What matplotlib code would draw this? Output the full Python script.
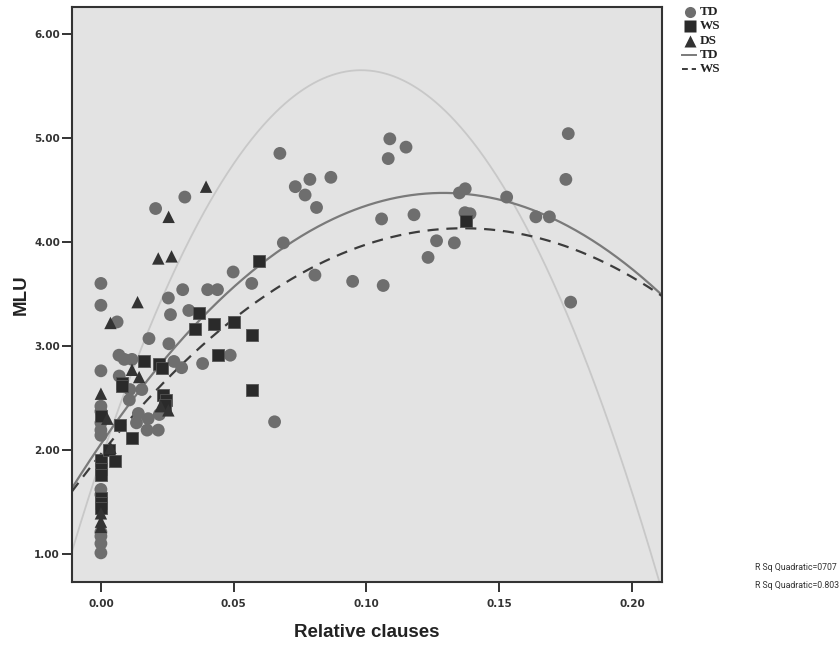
import matplotlib
matplotlib.use('Agg')
import matplotlib.pyplot as plt
import numpy as np
from matplotlib.lines import Line2D

# ---- data ----
td_x = [0, 0, 0, 0, 0, 0, 0, 0, 0, 0, 0, 0, 0, 0,
        0.0061, 0.0068, 0.0088, 0.0117, 0.0069, 0.0109, 0.0154, 0.0107, 0.0141, 0.0178,
        0.0220, 0.0216, 0.0174, 0.0134, 0.0181, 0.0256, 0.0262, 0.0331, 0.0254, 0.0308,
        0.0402, 0.0439, 0.0498, 0.0568, 0.0687, 0.0316, 0.0206, 0.0275, 0.0304, 0.0383,
        0.0487, 0.0654, 0.0674, 0.0732, 0.0769, 0.0787, 0.0866, 0.0812, 0.0806, 0.0948,
        0.1063, 0.1057, 0.1088, 0.1149, 0.1082, 0.1179, 0.1232, 0.1264, 0.1331, 0.1350,
        0.1372, 0.1371, 0.1390, 0.1528, 0.1638, 0.1689, 0.1751, 0.1760, 0.1769]
td_y = [3.60, 3.39, 2.76, 2.42, 2.37, 2.26, 2.19, 2.14, 1.62, 1.57, 1.21, 1.17, 1.10, 1.01,
        3.23, 2.91, 2.87, 2.87, 2.71, 2.58, 2.58, 2.48, 2.35, 2.30,
        2.34, 2.19, 2.19, 2.26, 3.07, 3.02, 3.30, 3.34, 3.46, 3.54,
        3.54, 3.54, 3.71, 3.60, 3.99, 4.43, 4.32, 2.85, 2.79, 2.83,
        2.91, 2.27, 4.85, 4.53, 4.45, 4.60, 4.62, 4.33, 3.68, 3.62,
        3.58, 4.22, 4.99, 4.91, 4.80, 4.26, 3.85, 4.01, 3.99, 4.47,
        4.51, 4.28, 4.27, 4.43, 4.24, 4.24, 4.60, 5.04, 3.42]

ws_x = [0, 0, 0, 0, 0, 0, 0, 0.0030,
        0.0053, 0.0072, 0.0116, 0.0078, 0.0078, 0.0162, 0.0220, 0.0230, 0.0235, 0.0247,
        0.0241, 0.0355, 0.0370, 0.0427, 0.0503, 0.0568, 0.0442, 0.0568, 0.0596, 0.1375]
ws_y = [2.33, 1.90, 1.82, 1.76, 1.54, 1.49, 1.44, 2.00,
        1.89, 2.24, 2.11, 2.64, 2.61, 2.85, 2.83, 2.79, 2.53, 2.48,
        2.43, 3.16, 3.32, 3.21, 3.23, 3.10, 2.91, 2.58, 3.82, 4.20]

ds_x = [0, 0, 0, 0, 0.0024, 0.0036, 0.0036, 0.0138, 0.0117, 0.0144, 0.0225, 0.0254,
        0.0216, 0.0266, 0.0255, 0.0396]
ds_y = [2.54, 1.39, 1.31, 1.26, 2.30, 2.02, 3.22, 3.42, 2.77, 2.70, 2.42, 2.38,
        3.84, 3.86, 4.24, 4.53]

# quadratic fit coefficients (a, b, c) : y = a + b x + c x^2
td_fit = [2.057, 37.41, -145.0]
ws_fit = [1.961, 31.78, -116.4]
ds_fit = [1.904, 76.44, -390.0]

x_ticks = [0.00, 0.05, 0.10, 0.15, 0.20]
y_ticks = [1.00, 2.00, 3.00, 4.00, 5.00, 6.00]
rsq_labels = ["R Sq Quadratic=0707", "R Sq Quadratic=0.803"]

# ---- figure ----
W, H = 840, 645
fig = plt.figure(figsize=(W / 100, H / 100), dpi=100)
fig.patch.set_facecolor('white')
L, R, T, B = 71.7, 662, 6.7, 582
ax = fig.add_axes([L / W, 1 - B / H, (R - L) / W, (B - T) / H])
ax.set_facecolor('#e3e3e3')
ax.set_xlim(-0.011, 0.2113)
ax.set_ylim(0.73, 6.26)

xs = np.linspace(-0.011, 0.2113, 500)
def quad(c, x):
    return c[0] + c[1] * x + c[2] * x ** 2

ax.plot(xs, quad(ds_fit, xs), color='#c8c8c8', lw=1.3, zorder=2)
ax.plot(xs, quad(td_fit, xs), color='#7a7a7a', lw=1.6, zorder=2)
ax.plot(xs, quad(ws_fit, xs), color='#3c3c3c', lw=1.6, ls=(0, (5, 3.5)), zorder=2)

ax.scatter(td_x, td_y, s=85, marker='o', color='#6e6e6e', edgecolors='none', zorder=3)
ax.scatter(ws_x, ws_y, s=80, marker='s', color='#2a2a2a', edgecolors='#555555',
           linewidths=0.6, zorder=4)
ax.scatter(ds_x, ds_y, s=80, marker='^', color='#333333', edgecolors='none', zorder=4)

ax.set_xticks(x_ticks)
ax.set_xticklabels([f"{v:.2f}" for v in x_ticks])
ax.set_yticks(y_ticks)
ax.set_yticklabels([f"{v:.2f}" for v in y_ticks])
ax.tick_params(direction='out', length=7, width=1.4, color='#333333',
               labelsize=7.5, labelcolor='#333333')
ax.tick_params(axis='y', pad=1.5)
ax.tick_params(axis='x', pad=5)
for lab in ax.get_xticklabels() + ax.get_yticklabels():
    lab.set_fontweight('semibold')
for sp in ax.spines.values():
    sp.set_linewidth(1.5)
    sp.set_color('#333333')

ax.set_xlabel('Relative clauses', fontsize=13.5, fontweight='bold',
              family='Liberation Sans', color='#222222', labelpad=11)
ax.set_ylabel('MLU', fontsize=13.5, fontweight='bold',
              family='Liberation Sans', color='#222222', labelpad=3)

# ---- legend (figure coordinates) ----
def fx(px):
    return px / W
def fy(py):
    return 1 - py / H

leg_font = dict(family='Liberation Serif', fontweight='bold', fontsize=9.5,
                color='#222222', va='center', ha='left')
mk_x = 690
rows = [(12, 'o', '#6e6e6e', 'TD'), (26, 's', '#2a2a2a', 'WS'), (41, '^', '#333333', 'DS')]
for py, m, col, lab in rows:
    fig.add_artist(Line2D([fx(mk_x)], [fy(py)], marker=m, markersize=8,
                          color=col, markeredgecolor='none', linestyle='none'))
    fig.text(fx(700), fy(py), lab, **leg_font)
fig.add_artist(Line2D([fx(682), fx(696)], [fy(55), fy(55)], color='#7a7a7a', lw=1.4))
fig.text(fx(700), fy(55), 'TD', **leg_font)
fig.add_artist(Line2D([fx(682), fx(696)], [fy(69), fy(69)], color='#3c3c3c', lw=1.4,
                      ls=(0, (3, 2))))
fig.text(fx(700), fy(69), 'WS', **leg_font)

# ---- R squared annotations ----
for i, txt in enumerate(rsq_labels):
    fig.text(fx(755), fy(568 + 18 * i), txt, fontsize=6.3, family='Roboto',
             color='#333333', va='center', ha='left')

fig.savefig('out.png', dpi=100, facecolor='white')
